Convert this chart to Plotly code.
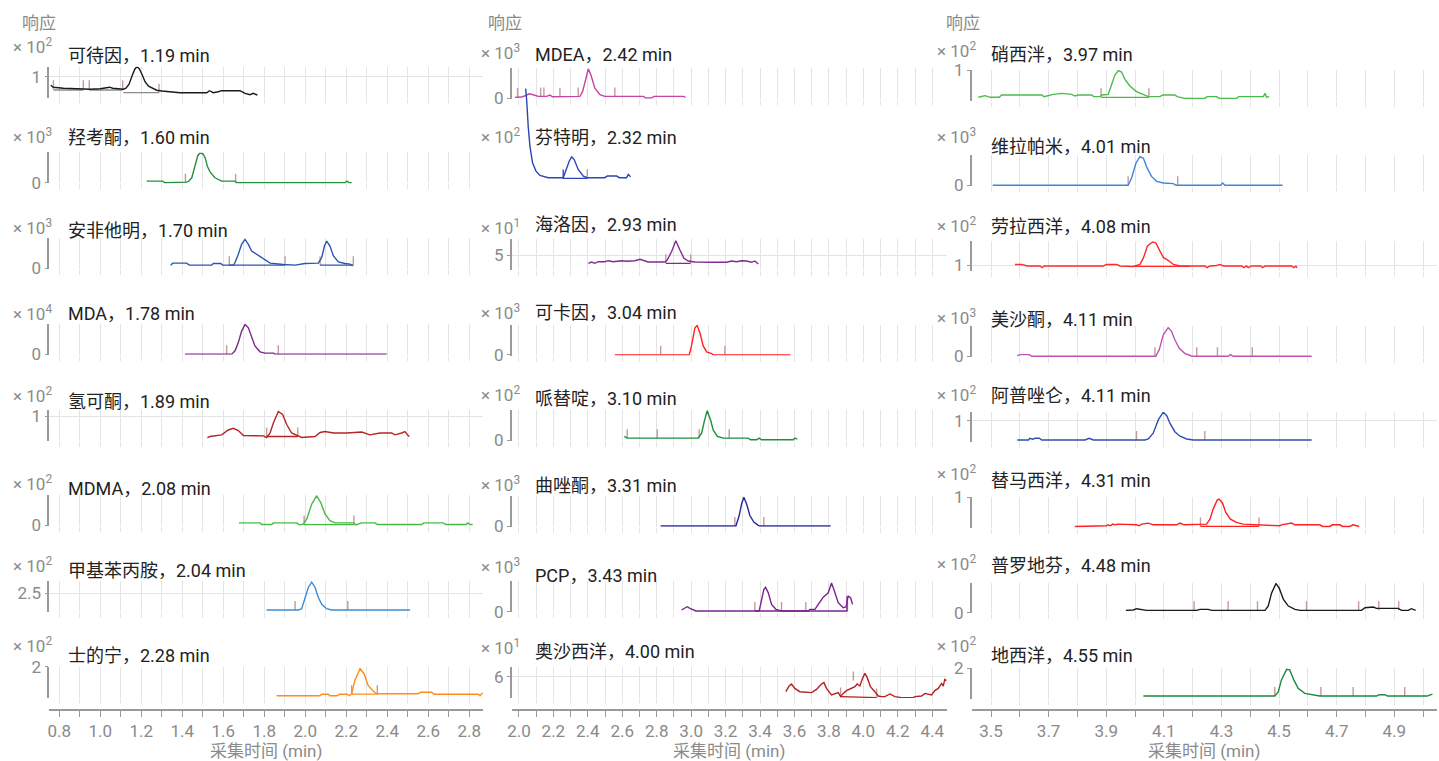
import plotly.graph_objects as go

# ---------------------------------------------------------------- data
names = ["可待因", "羟考酮", "安非他明", "MDA", "氢可酮", "MDMA", "甲基苯丙胺", "士的宁",
         "MDEA", "芬特明", "海洛因", "可卡因", "哌替啶", "曲唑酮", "PCP", "奥沙西洋",
         "硝西泮", "维拉帕米", "劳拉西洋", "美沙酮", "阿普唑仑", "替马西洋", "普罗地芬", "地西洋"]
rt_min = [1.19, 1.60, 1.70, 1.78, 1.89, 2.08, 2.04, 2.28,
          2.42, 2.32, 2.93, 3.04, 3.10, 3.31, 3.43, 4.00,
          3.97, 4.01, 4.08, 4.11, 4.11, 4.31, 4.48, 4.55]
exponents = [2, 3, 3, 4, 2, 2, 2, 2,
             3, 2, 1, 3, 2, 3, 3, 1,
             2, 3, 2, 3, 2, 2, 2, 2]
y_ticks = [1, 0, 0, 0, 1, 0, 2.5, 2,
           0, 0, 5, 0, 0, 0, 0, 6,
           1, 0, 1, 0, 1, 1, 0, 2]

# chromatograms: time (min) / response (in units of 10^exponent)
codeine_t = [0.758, 0.771, 0.82, 0.87, 0.909, 0.95, 1.0, 1.03, 1.045, 1.06, 1.096, 1.112, 1.125, 1.14,
             1.155, 1.168, 1.178, 1.19, 1.203, 1.218, 1.235, 1.255, 1.275, 1.30, 1.35, 1.389, 1.45,
             1.519, 1.532, 1.551, 1.575, 1.592, 1.681, 1.706, 1.73, 1.746, 1.766]
codeine_v = [0.83, 0.79, 0.77, 0.76, 0.75, 0.75, 0.76, 0.78, 0.79, 0.77, 0.76, 0.75, 0.77, 0.85,
             1.02, 1.15, 1.20, 1.16, 1.05, 0.90, 0.81, 0.77, 0.73, 0.715, 0.70, 0.68, 0.68,
             0.68, 0.72, 0.68, 0.70, 0.72, 0.72, 0.667, 0.64, 0.667, 0.634]
codeine_mt = [0.771, 0.917, 0.946, 1.109, 1.286]
codeine_mv = [0.75, 0.75, 0.75, 0.75, 0.68]
codeine_bt = [0.771, 0.917, None, 0.946, 1.109, None, 1.112, 1.286]
codeine_bv = [0.734, 0.734, None, 0.734, 0.734, None, 0.68, 0.68]

oxycodone_t = [1.226, 1.304, 1.315, 1.413, 1.421, 1.433, 1.446, 1.462, 1.475, 1.486, 1.50, 1.511,
               1.522, 1.535, 1.559, 1.592, 1.657, 1.665, 2.193, 2.202, 2.215, 2.226]
oxycodone_v = [0.05, 0.05, 0.0, 0.0, 0.02, 0.06, 0.15, 0.52, 0.82, 0.90, 0.88, 0.76,
               0.50, 0.33, 0.15, 0.05, 0.05, 0.0, 0.0, 0.05, 0.0, 0.0]
oxycodone_mt = [1.415, 1.66]
oxycodone_mv = [0.0, 0.0]
oxycodone_bt, oxycodone_bv = [], []

amphetamine_t = [1.343, 1.353, 1.421, 1.434, 1.543, 1.551, 1.587, 1.597, 1.649, 1.657,
                 1.673, 1.689, 1.706, 1.722, 1.738, 1.763, 1.795, 1.828, 1.893, 1.95,
                 1.998, 2.063, 2.08, 2.093, 2.104, 2.12, 2.137, 2.161, 2.193, 2.218, 2.231]
amphetamine_v = [0.10, 0.16, 0.16, 0.10, 0.10, 0.15, 0.15, 0.10, 0.10, 0.18,
                 0.43, 0.73, 0.88, 0.73, 0.53, 0.43, 0.28, 0.16, 0.12, 0.10,
                 0.15, 0.16, 0.33, 0.68, 0.83, 0.68, 0.38, 0.20, 0.15, 0.13, 0.08]
amphetamine_mt = [1.629, 1.901, 2.072, 2.234]
amphetamine_mv = [0.10, 0.10, 0.10, 0.10]
amphetamine_bt = [1.629, 1.901, None, 2.072, 2.234]
amphetamine_bv = [0.10, 0.10, None, 0.10, 0.10]

mda_t = [1.413, 1.641, 1.657, 1.673, 1.689, 1.706, 1.722, 1.738, 1.754, 1.779, 1.803, 1.844, 1.852, 2.397]
mda_v = [0.0, 0.0, 0.10, 0.35, 0.70, 0.90, 0.80, 0.50, 0.25, 0.07, 0.03, 0.03, 0.0, 0.0]
mda_mt = [1.616, 1.868]
mda_mv = [0.0, 0.0]
mda_bt, mda_bv = [], []

hydrocodone_t = [1.522, 1.535, 1.592, 1.624, 1.649, 1.673, 1.698, 1.795, 1.811, 1.828,
                 1.844, 1.868, 1.889, 1.909, 1.933, 1.966, 1.982, 2.047, 2.072, 2.096,
                 2.137, 2.202, 2.275, 2.315, 2.364, 2.421, 2.437, 2.47, 2.486, 2.498, 2.507]
hydrocodone_v = [0.576, 0.60, 0.633, 0.73, 0.763, 0.72, 0.62, 0.613, 0.58, 0.67,
                 0.87, 1.10, 1.04, 0.84, 0.67, 0.60, 0.58, 0.60, 0.68, 0.70,
                 0.67, 0.67, 0.69, 0.633, 0.67, 0.67, 0.633, 0.67, 0.70, 0.633, 0.60]
hydrocodone_mt = [1.811, 1.963]
hydrocodone_mv = [0.60, 0.60]
hydrocodone_bt = [1.811, 1.963]
hydrocodone_bv = [0.60, 0.60]

mdma_t = [1.676, 1.779, 1.787, 1.836, 1.844, 1.958, 1.971, 1.99, 2.007, 2.031,
          2.055, 2.075, 2.096, 2.12, 2.145, 2.234, 2.247, 2.275, 2.34, 2.351,
          2.567, 2.578, 2.672, 2.685, 2.784, 2.792, 2.803, 2.816]
mdma_v = [0.08, 0.08, 0.03, 0.03, 0.08, 0.08, 0.02, 0.04, 0.20, 0.65,
          0.90, 0.70, 0.35, 0.15, 0.08, 0.08, 0.02, 0.08, 0.08, 0.03,
          0.03, 0.08, 0.08, 0.03, 0.03, 0.08, 0.03, 0.03]
mdma_mt = [1.994, 2.237]
mdma_mv = [0.03, 0.03]
mdma_bt = [1.994, 2.237]
mdma_bv = [0.03, 0.03]

methamphetamine_t = [1.811, 1.966, 1.982, 1.998, 2.015, 2.031, 2.047, 2.063, 2.08, 2.104, 2.128, 2.511]
methamphetamine_v = [2.163, 2.163, 2.19, 2.39, 2.62, 2.72, 2.62, 2.42, 2.28, 2.19, 2.163, 2.163]
methamphetamine_mt = [1.95, 2.207]
methamphetamine_mv = [2.163, 2.163]
methamphetamine_bt, methamphetamine_bv = [], []

strychnine_t = [1.86, 2.072, 2.08, 2.112, 2.12, 2.156, 2.166, 2.202, 2.215, 2.226, 2.242, 2.267,
                2.286, 2.307, 2.332, 2.348, 2.551, 2.563, 2.616, 2.628, 2.844, 2.852, 2.865]
strychnine_v = [1.42, 1.42, 1.45, 1.45, 1.42, 1.42, 1.45, 1.45, 1.42, 1.46, 1.73, 1.96,
                1.86, 1.62, 1.51, 1.46, 1.46, 1.49, 1.49, 1.45, 1.45, 1.42, 1.48]
strychnine_mt = [2.226, 2.351]
strychnine_mv = [1.45, 1.45]
strychnine_bt = [2.226, 2.351]
strychnine_bv = [1.45, 1.45]

mdea_t = [1.977, 2.015, 2.035, 2.06, 2.083, 2.112, 2.161, 2.18, 2.195, 2.238, 2.354, 2.37,
          2.389, 2.403, 2.418, 2.441, 2.47, 2.499, 2.722, 2.737, 2.77, 2.784, 2.954, 2.968]
mdea_v = [0.02, 0.03, 0.07, 0.13, 0.10, 0.05, 0.05, 0.09, 0.04, 0.04, 0.05, 0.20,
          0.65, 0.88, 0.70, 0.30, 0.10, 0.05, 0.05, 0.0, 0.0, 0.05, 0.05, 0.02]
mdea_mt = [1.992, 2.126, 2.145, 2.238, 2.344, 2.557]
mdea_mv = [0.03, 0.05, 0.05, 0.04, 0.05, 0.05]
mdea_bt, mdea_bv = [], []

phentermine_t = [2.039, 2.045, 2.054, 2.064, 2.079, 2.099, 2.122, 2.17, 2.257, 2.273, 2.292, 2.306,
                 2.321, 2.344, 2.374, 2.397, 2.499, 2.513, 2.567, 2.583, 2.625, 2.635, 2.648]
phentermine_v = [2.88, 2.53, 1.73, 1.13, 0.63, 0.38, 0.25, 0.18, 0.18, 0.43, 0.68, 0.81,
                 0.73, 0.43, 0.23, 0.18, 0.18, 0.23, 0.23, 0.18, 0.18, 0.28, 0.21]
phentermine_mt = [2.397]
phentermine_mv = [0.16]
phentermine_bt = [2.257, 2.257, 2.397]
phentermine_bv = [0.43, 0.16, 0.16]

heroin_t = [2.403, 2.422, 2.441, 2.461, 2.499, 2.519, 2.548, 2.596, 2.625, 2.673,
            2.703, 2.732, 2.751, 2.848, 2.861, 2.886, 2.911, 2.935, 2.958, 2.983,
            3.022, 3.128, 3.206, 3.235, 3.264, 3.293, 3.322, 3.35, 3.37, 3.39]
heroin_v = [4.17, 4.30, 4.17, 4.33, 4.33, 4.43, 4.33, 4.43, 4.37, 4.43,
            4.57, 4.43, 4.30, 4.30, 4.50, 5.33, 6.43, 5.50, 4.67, 4.40,
            4.30, 4.27, 4.27, 4.40, 4.33, 4.43, 4.40, 4.27, 4.40, 4.10]
heroin_mt = [2.853, 2.997]
heroin_mv = [4.17, 4.17]
heroin_bt = [2.853, 2.997]
heroin_bv = [4.17, 4.17]

cocaine_t = [2.557, 2.989, 3.002, 3.022, 3.035, 3.051, 3.07, 3.09, 3.119, 3.128, 3.577]
cocaine_v = [0.0, 0.0, 0.27, 0.82, 0.89, 0.67, 0.27, 0.09, 0.04, 0.0, 0.0]
cocaine_mt = [2.823, 3.196]
cocaine_mv = [0.0, 0.0]
cocaine_bt, cocaine_bv = [], []

pethidine_t = [2.612, 2.629, 3.041, 3.061, 3.076, 3.093, 3.113, 3.128, 3.152, 3.186,
               3.332, 3.345, 3.38, 3.395, 3.409, 3.593, 3.602, 3.616]
pethidine_v = [0.12, 0.07, 0.07, 0.22, 0.57, 0.90, 0.62, 0.32, 0.12, 0.07,
               0.07, 0.02, 0.02, 0.07, 0.02, 0.02, 0.07, 0.04]
pethidine_mt = [2.629, 2.803, 3.047, 3.221]
pethidine_mv = [0.07, 0.07, 0.07, 0.07]
pethidine_bt, pethidine_bv = [], []

trazodone_t = [2.823, 3.26, 3.279, 3.293, 3.306, 3.322, 3.341, 3.364, 3.39, 3.399, 3.81]
trazodone_v = [0.0, 0.0, 0.32, 0.67, 0.87, 0.67, 0.32, 0.12, 0.02, 0.0, 0.0]
trazodone_mt = [3.254, 3.422]
trazodone_mv = [0.0, 0.0]
trazodone_bt, trazodone_bv = [], []

pcp_t = [2.944, 2.964, 2.977, 2.993, 3.028, 3.395, 3.409, 3.422, 3.432, 3.448,
         3.467, 3.492, 3.525, 3.68, 3.69, 3.719, 3.738, 3.767, 3.796, 3.815,
         3.829, 3.854, 3.883, 3.899, 3.912, 3.926, 3.937]
pcp_v = [0.05, 0.10, 0.15, 0.10, 0.02, 0.02, 0.32, 0.67, 0.74, 0.57,
         0.22, 0.07, 0.02, 0.02, 0.07, 0.07, 0.22, 0.44, 0.57, 0.87,
         0.67, 0.27, 0.12, 0.14, 0.47, 0.42, 0.22]
pcp_mt = [3.37, 3.525, 3.666, 3.908]
pcp_mv = [0.02, 0.02, 0.02, 0.02]
pcp_bt = [3.37, 3.905, 3.905]
pcp_bv = [0.02, 0.02, 0.47]

oxazepam_t = [3.55, 3.569, 3.583, 3.602, 3.631, 3.699, 3.728, 3.757, 3.771, 3.786,
              3.815, 3.835, 3.854, 3.868, 3.883, 3.902, 3.931, 3.951, 3.964, 3.98,
              3.995, 4.009, 4.022, 4.041, 4.067, 4.086, 4.106, 4.125, 4.154, 4.183,
              4.222, 4.29, 4.30, 4.338, 4.358, 4.396, 4.415, 4.435, 4.454, 4.464, 4.473, 4.483]
oxazepam_v = [5.245, 5.53, 5.63, 5.41, 5.245, 5.20, 5.36, 5.63, 5.70, 5.41,
              5.08, 5.16, 5.20, 5.00, 5.16, 5.30, 5.41, 5.50, 5.63, 5.53,
              5.91, 6.16, 5.96, 5.50, 5.245, 5.03, 5.00, 5.00, 5.13, 5.00,
              4.95, 4.95, 5.00, 5.03, 5.16, 5.08, 5.30, 5.41, 5.66, 5.53, 5.86, 5.80]
oxazepam_mt = [3.868, 3.942, 4.077]
oxazepam_mv = [5.0, 5.8, 4.96]
oxazepam_bt = [3.868, 4.077]
oxazepam_bv = [5.0, 4.95]

nitrazepam_t = [3.456, 3.479, 3.497, 3.529, 3.537, 3.676, 3.684, 3.716, 3.745, 3.78,
                3.791, 3.803, 3.849, 3.857, 3.878, 3.884, 3.907, 3.919, 3.93, 3.942,
                3.953, 3.965, 3.982, 4.005, 4.034, 4.046, 4.086, 4.096, 4.138, 4.146,
                4.173, 4.242, 4.25, 4.283, 4.292, 4.352, 4.36, 4.445, 4.451, 4.456, 4.466]
nitrazepam_v = [0.464, 0.497, 0.464, 0.464, 0.51, 0.51, 0.477, 0.523, 0.543, 0.523,
                0.49, 0.51, 0.51, 0.477, 0.477, 0.51, 0.523, 0.71, 0.91, 1.0,
                0.97, 0.823, 0.69, 0.577, 0.51, 0.477, 0.477, 0.51, 0.51, 0.477,
                0.443, 0.443, 0.477, 0.477, 0.443, 0.443, 0.477, 0.477, 0.543, 0.464, 0.477]
nitrazepam_mt = [3.882, 4.048]
nitrazepam_mv = [0.464, 0.464]
nitrazepam_bt = [3.882, 4.048]
nitrazepam_bv = [0.464, 0.464]

verapamil_t = [3.506, 3.976, 3.988, 4.003, 4.017, 4.029, 4.042, 4.057, 4.075, 4.098,
               4.133, 4.142, 4.297, 4.304, 4.312, 4.512]
verapamil_v = [0.0, 0.0, 0.22, 0.67, 0.87, 0.82, 0.52, 0.27, 0.12, 0.07,
               0.05, 0.0, 0.0, 0.07, 0.0, 0.0]
verapamil_mt = [3.976, 4.148]
verapamil_mv = [0.0, 0.0]
verapamil_bt, verapamil_bv = [], []

lorazepam_t = [3.583, 3.606, 3.626, 3.67, 3.678, 3.684, 3.89, 3.901, 3.936, 3.948,
               3.994, 4.017, 4.029, 4.043, 4.061, 4.072, 4.086, 4.098, 4.115, 4.133,
               4.156, 4.19, 4.242, 4.25, 4.26, 4.283, 4.295, 4.306, 4.37, 4.378,
               4.387, 4.393, 4.404, 4.436, 4.443, 4.451, 4.543, 4.551, 4.558, 4.563]
lorazepam_v = [1.02, 1.02, 0.99, 0.99, 0.956, 0.99, 0.99, 1.02, 1.02, 0.99,
               0.98, 1.02, 1.15, 1.39, 1.47, 1.45, 1.29, 1.16, 1.10, 1.02,
               0.99, 0.99, 0.99, 0.956, 0.99, 1.0, 1.02, 0.99, 0.99, 0.956,
               0.99, 0.956, 0.99, 0.99, 0.956, 0.99, 0.99, 0.956, 0.985, 0.956]
lorazepam_mt, lorazepam_mv = [], []
lorazepam_bt = [3.994, 4.19]
lorazepam_bv = [0.98, 0.98]

methadone_t = [3.591, 3.601, 3.633, 3.641, 4.072, 4.084, 4.098, 4.115, 4.127, 4.138,
               4.153, 4.173, 4.19, 4.196, 4.323, 4.331, 4.341, 4.613]
methadone_v = [0.02, 0.05, 0.05, 0.0, 0.0, 0.20, 0.65, 0.87, 0.75, 0.50,
               0.25, 0.08, 0.03, 0.0, 0.0, 0.05, 0.0, 0.0]
methadone_mt = [4.069, 4.214, 4.286, 4.407]
methadone_mv = [0.0, 0.0, 0.0, 0.0]
methadone_bt, methadone_bv = [], []

alprazolam_t = [3.591, 3.63, 3.635, 3.645, 3.653, 3.668, 3.676, 3.826, 3.841, 3.855, 4.034,
                4.046, 4.063, 4.081, 4.098, 4.11, 4.121, 4.138, 4.156, 4.179, 4.202, 4.613]
alprazolam_v = [0.614, 0.614, 0.648, 0.63, 0.648, 0.648, 0.614, 0.614, 0.648, 0.614, 0.614,
                0.634, 0.75, 1.02, 1.17, 1.10, 0.95, 0.78, 0.69, 0.634, 0.614, 0.614]
alprazolam_mt = [4.005, 4.242]
alprazolam_mv = [0.614, 0.614]
alprazolam_bt, alprazolam_bv = [], []

temazepam_t = [3.791, 3.901, 3.906, 3.915, 3.922, 3.93, 3.942, 4.005, 4.014, 4.023,
               4.046, 4.063, 4.144, 4.156, 4.17, 4.225, 4.248, 4.26, 4.271, 4.285,
               4.292, 4.304, 4.315, 4.331, 4.352, 4.375, 4.422, 4.503, 4.508, 4.532,
               4.543, 4.555, 4.641, 4.651, 4.676, 4.685, 4.711, 4.72, 4.745, 4.757, 4.769, 4.778]
temazepam_v = [0.42, 0.433, 0.453, 0.433, 0.467, 0.453, 0.467, 0.453, 0.433, 0.467,
               0.487, 0.453, 0.453, 0.487, 0.453, 0.453, 0.467, 0.567, 0.767, 0.947,
               0.967, 0.88, 0.70, 0.567, 0.50, 0.467, 0.453, 0.433, 0.453, 0.467,
               0.487, 0.453, 0.453, 0.42, 0.42, 0.453, 0.453, 0.42, 0.42, 0.453, 0.433, 0.42]
temazepam_mt = [4.227, 4.43]
temazepam_mv = [0.42, 0.42]
temazepam_bt = [4.227, 4.43]
temazepam_bv = [0.42, 0.42]

proadifen_t = [3.968, 3.994, 4.005, 4.029, 4.04, 4.214, 4.225, 4.254, 4.266, 4.451,
               4.462, 4.474, 4.489, 4.50, 4.515, 4.532, 4.555, 4.573, 4.786, 4.798,
               4.827, 4.838, 4.913, 4.925, 4.948, 4.959, 4.974]
proadifen_v = [0.07, 0.08, 0.12, 0.10, 0.07, 0.07, 0.10, 0.10, 0.07, 0.07,
               0.20, 0.60, 0.88, 0.75, 0.40, 0.20, 0.10, 0.07, 0.07, 0.15,
               0.17, 0.13, 0.13, 0.07, 0.07, 0.12, 0.07]
proadifen_mt = [4.205, 4.323, 4.425, 4.595, 4.776, 4.846, 4.915]
proadifen_mv = [0.07, 0.07, 0.07, 0.07, 0.07, 0.07, 0.07]
proadifen_bt, proadifen_bv = [], []

diazepam_t = [4.029, 4.485, 4.497, 4.508, 4.526, 4.537, 4.551, 4.566, 4.589, 4.612,
              4.629, 4.641, 4.838, 4.847, 4.867, 4.876, 5.014, 5.023, 5.032]
diazepam_v = [1.447, 1.447, 1.53, 1.77, 1.98, 1.97, 1.77, 1.60, 1.50, 1.48,
              1.467, 1.447, 1.447, 1.473, 1.473, 1.447, 1.447, 1.473, 1.487]
diazepam_mt = [4.485, 4.645, 4.757, 4.936]
diazepam_mv = [1.447, 1.447, 1.447, 1.447]
diazepam_bt, diazepam_bv = [], []

series = [
    (codeine_t, codeine_v, codeine_mt, codeine_mv, codeine_bt, codeine_bv),
    (oxycodone_t, oxycodone_v, oxycodone_mt, oxycodone_mv, oxycodone_bt, oxycodone_bv),
    (amphetamine_t, amphetamine_v, amphetamine_mt, amphetamine_mv, amphetamine_bt, amphetamine_bv),
    (mda_t, mda_v, mda_mt, mda_mv, mda_bt, mda_bv),
    (hydrocodone_t, hydrocodone_v, hydrocodone_mt, hydrocodone_mv, hydrocodone_bt, hydrocodone_bv),
    (mdma_t, mdma_v, mdma_mt, mdma_mv, mdma_bt, mdma_bv),
    (methamphetamine_t, methamphetamine_v, methamphetamine_mt, methamphetamine_mv,
     methamphetamine_bt, methamphetamine_bv),
    (strychnine_t, strychnine_v, strychnine_mt, strychnine_mv, strychnine_bt, strychnine_bv),
    (mdea_t, mdea_v, mdea_mt, mdea_mv, mdea_bt, mdea_bv),
    (phentermine_t, phentermine_v, phentermine_mt, phentermine_mv, phentermine_bt, phentermine_bv),
    (heroin_t, heroin_v, heroin_mt, heroin_mv, heroin_bt, heroin_bv),
    (cocaine_t, cocaine_v, cocaine_mt, cocaine_mv, cocaine_bt, cocaine_bv),
    (pethidine_t, pethidine_v, pethidine_mt, pethidine_mv, pethidine_bt, pethidine_bv),
    (trazodone_t, trazodone_v, trazodone_mt, trazodone_mv, trazodone_bt, trazodone_bv),
    (pcp_t, pcp_v, pcp_mt, pcp_mv, pcp_bt, pcp_bv),
    (oxazepam_t, oxazepam_v, oxazepam_mt, oxazepam_mv, oxazepam_bt, oxazepam_bv),
    (nitrazepam_t, nitrazepam_v, nitrazepam_mt, nitrazepam_mv, nitrazepam_bt, nitrazepam_bv),
    (verapamil_t, verapamil_v, verapamil_mt, verapamil_mv, verapamil_bt, verapamil_bv),
    (lorazepam_t, lorazepam_v, lorazepam_mt, lorazepam_mv, lorazepam_bt, lorazepam_bv),
    (methadone_t, methadone_v, methadone_mt, methadone_mv, methadone_bt, methadone_bv),
    (alprazolam_t, alprazolam_v, alprazolam_mt, alprazolam_mv, alprazolam_bt, alprazolam_bv),
    (temazepam_t, temazepam_v, temazepam_mt, temazepam_mv, temazepam_bt, temazepam_bv),
    (proadifen_t, proadifen_v, proadifen_mt, proadifen_mv, proadifen_bt, proadifen_bv),
    (diazepam_t, diazepam_v, diazepam_mt, diazepam_mv, diazepam_bt, diazepam_bv),
]

# ---------------------------------------------------------------- styling / layout
W, H = 1439, 761
FONT = "Roboto, 'Noto Sans CJK SC', sans-serif"
GRID = "#e4e4e4"
AXIS = "#9a9a9a"
GREY_TXT = "#8a8a8a"
DARK_TXT = "#222222"
MARK_COLOR = "#c49a9a"

colors = ["#1a1a1a", "#23903f", "#2d55b0", "#7c2a85", "#b52525", "#45bb45", "#3b8ad8", "#ff8c1a",
          "#c4449f", "#2a45b5", "#7e2d8e", "#ff2020", "#1e8d3e", "#26289c", "#7b238e", "#b51f1f",
          "#4cbb4c", "#3d87d6", "#ff2a2a", "#c251b5", "#2f4fb0", "#ff2020", "#1a1a1a", "#1a8a3c"]
base_colors = ["#8c8c8c"] + [None] * 23

# column geometry (pixels)
COLS = [
    dict(x0=49.3, x1=483.3, top=66.7, pitch=85.7, h=31.0, xr=[0.751, 2.868], tick0=0.0,
         title_x=66, exp_x=54, resp_x=38.5),
    dict(x0=511.7, x1=946.7, top=67.7, pitch=85.6, h=31.0, xr=[1.958, 4.484], tick0=0.0,
         title_x=533, exp_x=522, resp_x=505),
    dict(x0=971.7, x1=1437.0, top=70.0, pitch=85.47, h=30.5, xr=[3.433, 5.048], tick0=3.5,
         title_x=989, exp_x=977.5, resp_x=962.5),
]
Z, Z3 = [-0.02, 0.92], [-0.02, 0.905]
y_ranges = [[0.58, 1.2], Z, Z, Z, [0.52, 1.14], Z, [2.126, 2.746], [1.382, 2.002],
            Z, Z, [3.51, 6.61], Z, Z, Z, Z, [4.935, 6.485],
            [0.40, 1.01], Z3, [0.88, 1.49], Z3, [0.566, 1.176], [0.392, 1.002], Z3, [1.392, 2.002]]
title_y = [55.5, 137.5, 230.7, 313.3, 401.7, 488.3, 570, 655,
           55, 137, 225, 312.3, 399, 485.7, 575, 651.7,
           55, 146.7, 226.7, 319, 395, 480, 565, 655]
exp_y = [48, 137.5, 229.3, 315, 396.7, 485, 566.7, 647.3,
         54, 137.5, 229, 314, 395.7, 485.7, 568, 649,
         51.7, 138.3, 227.3, 319, 395.7, 475, 565, 647.3]
AXIS_Y_PX = 710
MARK_PX = 9


def px_x(px):
    return px / W


def px_y(px):
    return 1 - px / H


fig = go.Figure()
layout = dict(width=W, height=H, autosize=False,
              margin=dict(l=0, r=0, t=0, b=0, pad=0, autoexpand=False),
              paper_bgcolor="white", plot_bgcolor="rgba(0,0,0,0)", showlegend=False,
              font=dict(family=FONT, color=GREY_TXT), hovermode=False)
annotations = []

# extra overlay pair so the steep start of the 芬特明 trace can rise above its own row
ph_idx = names.index("芬特明")
c2 = COLS[1]
ph_top_px = c2["top"]
ph_bot_px = c2["top"] + c2["pitch"] + c2["h"]
r0, r1 = y_ranges[ph_idx]
k_ph = (r1 - r0) / c2["h"]
layout["xaxis25"] = dict(domain=[px_x(c2["x0"]), px_x(c2["x1"])], range=c2["xr"],
                         anchor="y25", visible=False, showgrid=False, automargin=False)
layout["yaxis25"] = dict(domain=[px_y(ph_bot_px), px_y(ph_top_px)],
                         range=[r0, r0 + k_ph * (ph_bot_px - ph_top_px)],
                         anchor="x25", visible=False, showgrid=False, automargin=False)

for n in range(24):
    c, r = divmod(n, 8)
    col = COLS[c]
    top = col["top"] + r * col["pitch"]
    bot = top + col["h"]
    ax = n + 1
    y0, y1 = y_ranges[n]

    # per-panel time axis: light grid every 0.1 min, short grid-coloured stubs below the panel
    xa = dict(domain=[px_x(col["x0"]), px_x(col["x1"])], range=col["xr"], anchor=f"y{ax}",
              showgrid=True, gridcolor=GRID, gridwidth=1, zeroline=False, automargin=False,
              tickmode="linear", tick0=col["tick0"], dtick=0.1,
              ticks="outside", ticklen=5, tickcolor=GRID, tickwidth=1,
              showticklabels=False, showline=False, fixedrange=True)
    ya = dict(domain=[px_y(bot), px_y(top)], range=[y0, y1], anchor=f"x{ax}",
              tickmode="array", tickvals=[y_ticks[n]], showgrid=True, gridcolor=GRID,
              gridwidth=1, zeroline=False, showline=True, linecolor=AXIS, linewidth=1.5,
              ticks="outside", ticklen=3, tickcolor=AXIS, tickwidth=1, automargin=False,
              tickfont=dict(size=17, color=GREY_TXT, family=FONT), fixedrange=True)
    layout[f"xaxis{ax}"] = xa
    layout[f"yaxis{ax}"] = ya

    if r == 7:
        # labelled time axis under each column, drawn a little below the last panel
        bx = 26 + c
        layout[f"xaxis{bx}"] = dict(
            overlaying=f"x{ax}", anchor="free", position=px_y(AXIS_Y_PX), range=col["xr"],
            showgrid=False, zeroline=False, automargin=False, fixedrange=True,
            showline=True, linecolor=AXIS, linewidth=1.5,
            tickmode="linear", tick0=col["tick0"], dtick=0.2,
            ticks="outside", ticklen=6, tickcolor=AXIS, tickwidth=1.2,
            showticklabels=True, tickformat=".1f",
            tickfont=dict(size=17, color=GREY_TXT, family=FONT),
            minor=dict(tick0=col["tick0"], dtick=0.1, ticks="outside", ticklen=6,
                       tickcolor=AXIS, tickwidth=1.2, showgrid=False))
        fig.add_trace(go.Scatter(x=[], y=[], mode="lines", xaxis=f"x{bx}", yaxis=f"y{ax}",
                                 hoverinfo="skip"))

    t, v, mt, mv, bt, bv = series[n]
    xr_id, yr_id = (f"x{ax}", f"y{ax}")
    if n == ph_idx:
        xr_id, yr_id = "x25", "y25"

    # integration markers
    if mt:
        mh = MARK_PX * (y1 - y0) / col["h"]
        mx, my = [], []
        for tt, vv in zip(mt, mv):
            mx += [tt, tt, None]
            my += [vv, vv + mh, None]
        fig.add_trace(go.Scatter(x=mx, y=my, mode="lines", xaxis=xr_id, yaxis=yr_id,
                                 line=dict(color=MARK_COLOR, width=1.4), hoverinfo="skip"))
    # integration baseline
    if bt:
        fig.add_trace(go.Scatter(x=bt, y=bv, mode="lines", xaxis=xr_id, yaxis=yr_id,
                                 line=dict(color=base_colors[n] or colors[n], width=1.3),
                                 hoverinfo="skip"))
    # chromatogram
    fig.add_trace(go.Scatter(x=t, y=v, mode="lines", xaxis=xr_id, yaxis=yr_id,
                             line=dict(color=colors[n], width=1.4, shape="linear"),
                             hoverinfo="skip"))

    annotations.append(dict(text=f"{names[n]}，{rt_min[n]:.2f} min", xref="paper", yref="paper",
                            x=px_x(col["title_x"]), y=px_y(title_y[n]), xanchor="left",
                            yanchor="middle", showarrow=False,
                            font=dict(size=18, color=DARK_TXT, family=FONT)))
    annotations.append(dict(text=f"× 10<sup>{exponents[n]}</sup>", xref="paper", yref="paper",
                            x=px_x(col["exp_x"]), y=px_y(exp_y[n] - 2), xanchor="right",
                            yanchor="middle", showarrow=False,
                            font=dict(size=17, color=GREY_TXT, family=FONT)))

for col in COLS:
    annotations.append(dict(text="响应", xref="paper", yref="paper",
                            x=px_x(col["resp_x"]), y=px_y(23.3), xanchor="center",
                            yanchor="middle", showarrow=False,
                            font=dict(size=17, color=GREY_TXT, family=FONT)))
    annotations.append(dict(text="采集时间 (min)", xref="paper", yref="paper",
                            x=px_x((col["x0"] + col["x1"]) / 2), y=px_y(750.7),
                            xanchor="center", yanchor="middle", showarrow=False,
                            font=dict(size=17, color=GREY_TXT, family=FONT)))

layout["annotations"] = annotations
fig.update_layout(**layout)
# page body without default margin so the 1439x761 figure fills the window exactly
fig.write_html("out.html", config={"responsive": False},
               post_script="document.body.style.margin='0px';")
